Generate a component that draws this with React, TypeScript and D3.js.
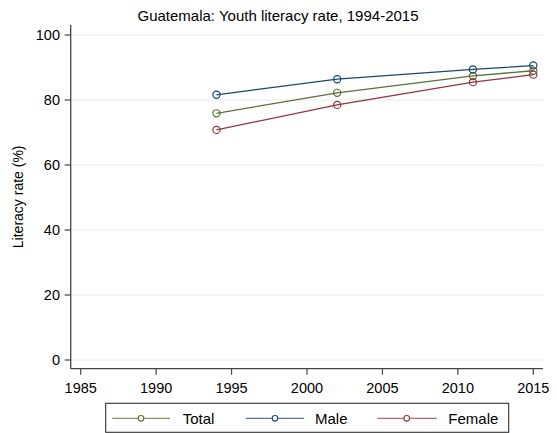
import React from "react";
import * as d3 from "d3";

const years = [1994, 2002, 2011, 2015];
const totalVals = [75.9, 82.2, 87.4, 89.0];
const maleVals = [81.6, 86.4, 89.4, 90.6];
const femaleVals = [70.8, 78.5, 85.5, 87.8];
const xTicks = [1985, 1990, 1995, 2000, 2005, 2010, 2015];
const yTicks = [0, 20, 40, 60, 80, 100];
const seriesNames = ["Total", "Male", "Female"];
const title = "Guatemala: Youth literacy rate, 1994-2015";
const yTitle = "Literacy rate (%)";

const W = 557;
const H = 433;
const FONT = "'Liberation Sans', Arial, Helvetica, sans-serif";
const colors = ["#55752f", "#1a476f", "#90353b"];
const legendColors = ["#7f9a62", "#5a7a9c", "#b06a70"];

export default function App() {
  const x = d3.scaleLinear().domain([1985, 2015]).range([80.7, 533.3]);
  const y = d3.scaleLinear().domain([0, 100]).range([360, 35]);
  const axLeft = 70.7;
  const axRight = 543;
  const axTop = 25;
  const axBottom = 368.7;

  const series = [totalVals, maleVals, femaleVals];
  const line = d3
    .line<number>()
    .x((_, i) => x(years[i]))
    .y((d) => y(d));

  const legendItems = [
    { lx1: 112.3, lx2: 170, mx: 141, tx: 182.7 },
    { lx1: 245.7, lx2: 304, mx: 275, tx: 315 },
    { lx1: 377.3, lx2: 436.7, mx: 406.7, tx: 448.3 },
  ];

  return (
    <svg
      width={W}
      height={H}
      style={{ position: "fixed", left: 0, top: 0, background: "#fff" }}
      fontFamily={FONT}
    >
      <rect x={0} y={0} width={W} height={H} fill="#fff" />
      <text x={278} y={20.5} fontSize={15} textAnchor="middle" fill="#000">
        {title}
      </text>
      {/* gridlines */}
      {yTicks.map((t) => (
        <line
          key={"g" + t}
          x1={axLeft}
          x2={axRight}
          y1={y(t)}
          y2={y(t)}
          stroke="#eaeaea"
          strokeWidth={1}
        />
      ))}
      {/* y axis */}
      <line x1={axLeft} x2={axLeft} y1={axTop} y2={axBottom} stroke="#444" strokeWidth={1.3} />
      {yTicks.map((t) => (
        <g key={"yt" + t}>
          <line x1={axLeft - 6} x2={axLeft} y1={y(t)} y2={y(t)} stroke="#444" strokeWidth={1.2} />
          <text
            x={60}
            y={y(t)}
            dy="0.36em"
            fontSize={14.5}
            textAnchor="end"
            fill="#000"
          >
            {t}
          </text>
        </g>
      ))}
      <text
        transform={`translate(23,${(axTop + axBottom) / 2}) rotate(-90)`}
        fontSize={14}
        textAnchor="middle"
        fill="#000"
      >
        {yTitle}
      </text>
      {/* x axis */}
      <line x1={axLeft} x2={axRight} y1={axBottom} y2={axBottom} stroke="#444" strokeWidth={1.3} />
      {xTicks.map((t) => (
        <g key={"xt" + t}>
          <line x1={x(t)} x2={x(t)} y1={axBottom} y2={axBottom + 6} stroke="#444" strokeWidth={1.2} />
          <text x={x(t)} y={392.5} fontSize={14.5} textAnchor="middle" fill="#000">
            {t}
          </text>
        </g>
      ))}
      {/* series */}
      {series.map((vals, si) => (
        <g key={"s" + si}>
          <path d={line(vals) || ""} fill="none" stroke={colors[si]} strokeWidth={1.3} />
          {vals.map((v, i) => (
            <circle
              key={i}
              cx={x(years[i])}
              cy={y(v)}
              r={3.6}
              fill="none"
              stroke={colors[si]}
              strokeWidth={1.2}
            />
          ))}
        </g>
      ))}
      {/* legend */}
      <rect x={105.7} y={403.3} width={403} height={29} fill="#fff" stroke="#333" strokeWidth={1.1} />
      {legendItems.map((it, i) => (
        <g key={"l" + i}>
          <line x1={it.lx1} x2={it.lx2} y1={418.3} y2={418.3} stroke={legendColors[i]} strokeWidth={1.3} />
          <circle cx={it.mx} cy={418.3} r={2.8} fill="#fff" stroke={colors[i]} strokeWidth={1.1} />
          <text x={it.tx} y={423.5} fontSize={15} fill="#000">
            {seriesNames[i]}
          </text>
        </g>
      ))}
    </svg>
  );
}
